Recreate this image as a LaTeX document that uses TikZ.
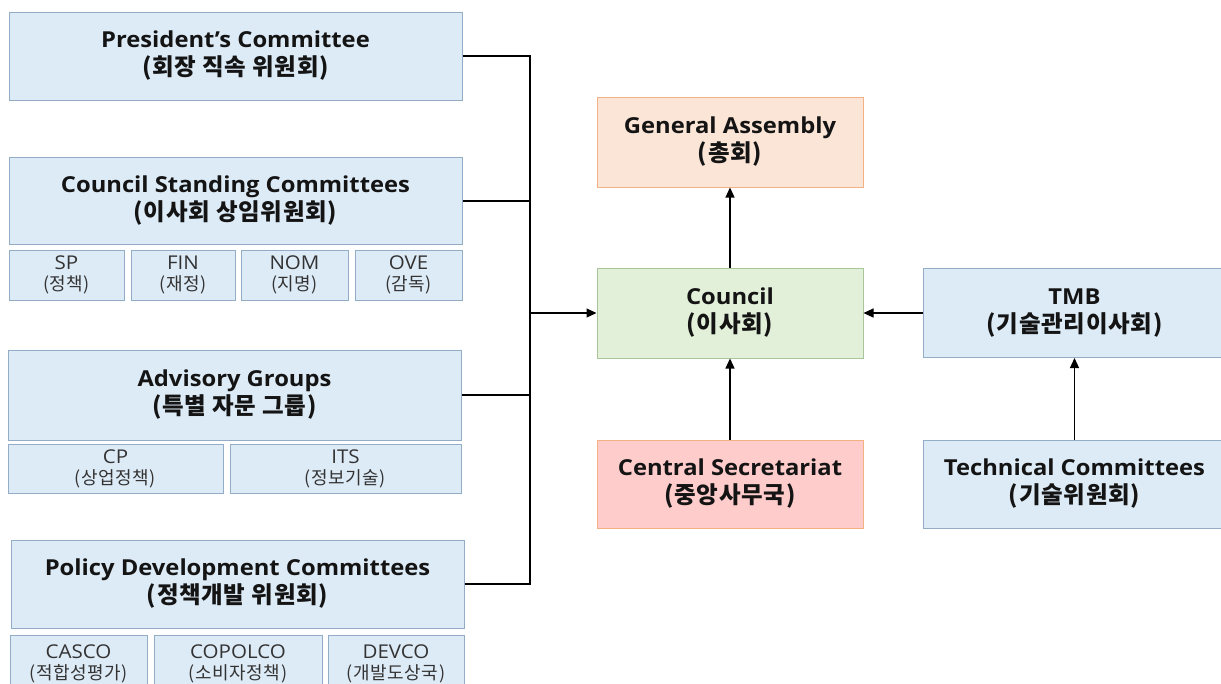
\documentclass[tikz,border=0pt]{standalone}
\usepackage{fontspec}
\setmainfont[FakeStretch=1.08]{Open Sans}
\newfontfamily\kr[LetterSpace=3]{Noto Sans CJK KR}
\usetikzlibrary{arrows.meta}
\definecolor{bfill}{HTML}{DDEBF7}
\definecolor{bdraw}{HTML}{93ADC6}
\definecolor{gafill}{HTML}{FBE5D6}
\definecolor{gadraw}{HTML}{F4B183}
\definecolor{cofill}{HTML}{E2F0D9}
\definecolor{codraw}{HTML}{A9C59A}
\definecolor{csfill}{HTML}{FFCCCC}
\definecolor{csdraw}{HTML}{F4B183}
\newcommand\krt[1]{{\kr\bfseries\fontsize{23.5}{28}\selectfont #1}}
\newcommand\krs[1]{{\kr\fontsize{18}{21}\selectfont #1}}
\tikzset{
  box/.style={draw=bdraw, fill=bfill, line width=1pt, inner sep=0pt, align=center, text=black!92,
    font=\fontsize{22}{28}\selectfont\bfseries},
  subbox/.style={draw=bdraw, fill=bfill, line width=1pt, inner sep=0pt, align=center, text=black!80,
    font=\fontsize{19}{21}\selectfont},
  conn/.style={line width=1.2pt, black},
  arr/.style={conn, -{Triangle[length=10pt,width=9pt]}}
}
\begin{document}
\begin{tikzpicture}[x=1pt,y=-1pt]
\useasboundingbox (0,0) rectangle (1221,683);
\fill[white] (0,0) rectangle (1221,683);
% left column
\node[box, minimum width=453pt, minimum height=88pt] (pres) at (235.5,56) {President’s Committee\\\krt{(회장 직속 위원회)}};
\node[box, minimum width=453pt, minimum height=87pt] (csc) at (235.5,201) {Council Standing Committees\\\krt{(이사회 상임위원회)}};
\node[subbox, minimum width=115pt, minimum height=50pt] (sp) at (66.5,275) {SP\\\krs{(정책)}};
\node[subbox, minimum width=104pt, minimum height=50pt] (fin) at (183,275) {FIN\\\krs{(재정)}};
\node[subbox, minimum width=107pt, minimum height=50pt] (nom) at (294.5,275) {NOM\\\krs{(지명)}};
\node[subbox, minimum width=107pt, minimum height=50pt] (ove) at (408.5,275) {OVE\\\krs{(감독)}};
\node[box, minimum width=453pt, minimum height=90pt] (adv) at (234.5,395) {Advisory Groups\\\krt{(특별 자문 그룹)}};
\node[subbox, minimum width=215pt, minimum height=49pt] (cp) at (115.5,468.5) {CP\\\krs{(상업정책)}};
\node[subbox, minimum width=231pt, minimum height=49pt] (its) at (345.5,468.5) {ITS\\\krs{(정보기술)}};
\node[box, minimum width=453pt, minimum height=88pt] (pdc) at (237.5,584) {Policy Development Committees\\\krt{(정책개발 위원회)}};
\node[subbox, minimum width=137pt, minimum height=58pt] (casco) at (78.5,664) {CASCO\\\krs{(적합성평가)}};
\node[subbox, minimum width=168pt, minimum height=58pt] (copolco) at (238,664) {COPOLCO\\\krs{(소비자정책)}};
\node[subbox, minimum width=136pt, minimum height=58pt] (devco) at (396,664) {DEVCO\\\krs{(개발도상국)}};
% centre column
\node[box, draw=gadraw, fill=gafill, minimum width=266pt, minimum height=90pt] (ga) at (730,142) {General Assembly\\\krt{(총회)}};
\node[box, draw=codraw, fill=cofill, minimum width=266pt, minimum height=90pt] (council) at (730,313) {Council\\\krt{(이사회)}};
\node[box, draw=csdraw, fill=csfill, minimum width=266pt, minimum height=88pt] (cs) at (730,484) {Central Secretariat\\\krt{(중앙사무국)}};
% right column
\node[box, minimum width=303pt, minimum height=89pt] (tmb) at (1074.5,313) {TMB\\\krt{(기술관리이사회)}};
\node[box, minimum width=303pt, minimum height=88pt] (tc) at (1074.5,484) {Technical Committees\\\krt{(기술위원회)}};
% connectors
\coordinate (bus) at (530,313);
\draw[conn] (pres.east) -| (bus);
\draw[conn] (csc.east) -| (bus);
\draw[conn] (adv.east) -| (bus);
\draw[conn] (pdc.east) -| (bus);
\draw[arr] (bus) -- (council.west);
\draw[arr] (council.north) -- (ga.south);
\draw[arr] (cs.north) -- (council.south);
\draw[arr] (tmb.west) -- (council.east);
\draw[arr] (tc.north) -- (tmb.south);
\end{tikzpicture}
\end{document}
